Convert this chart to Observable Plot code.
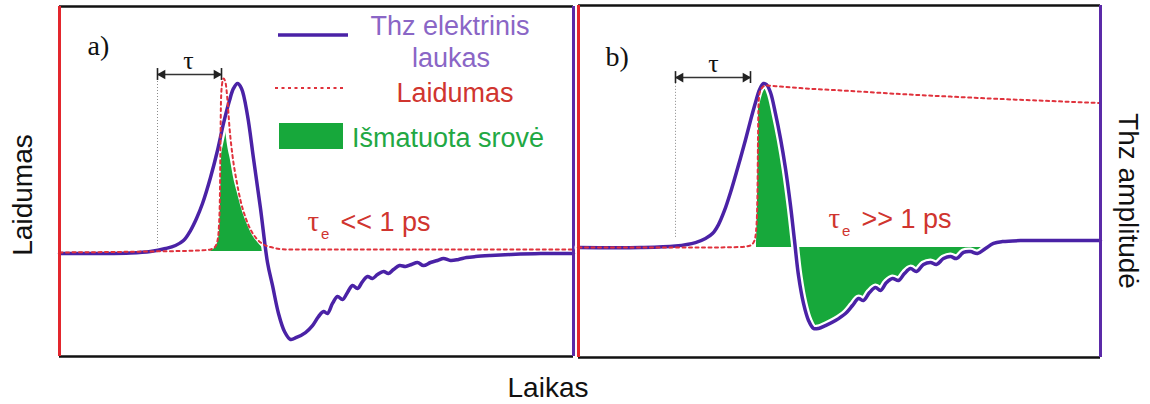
<!DOCTYPE html>
<html>
<head>
<meta charset="utf-8">
<script src="https://cdn.jsdelivr.net/npm/d3@7"></script>
<script src="https://cdn.jsdelivr.net/npm/@observablehq/plot@0.6"></script>
<style>
  body { margin: 0; background: #fff; }
  #fig { position: relative; width: 1150px; height: 404px; background: #fff; overflow: hidden;
         font-family: "Liberation Sans", Arial, sans-serif; }
  #fig > svg { position: absolute; }
</style>
</head>
<body>
<div id="fig"></div>
<script>
// ---- a) short carrier lifetime: THz field, photoconductivity, measured current ----
const timeA = [0, 0.41, 0.71, 0.91, 1.06, 1.16, 1.24, 1.31, 1.37, 1.43, 1.51, 1.58, 1.64, 1.70, 1.74,
  1.78, 1.82, 1.88, 1.94, 2.01, 2.08, 2.13, 2.19, 2.25, 2.31, 2.37, 2.46, 2.53, 2.59, 2.64,
  2.68, 2.73, 2.78, 2.83, 2.88, 2.93, 2.98, 3.03, 3.08, 3.13, 3.18, 3.24, 3.29, 3.34, 3.40,
  3.46, 3.52, 3.58, 3.64, 3.71, 3.78, 3.84, 3.91, 3.99, 4.07, 4.16, 4.31, 4.51, 4.81, 5.14];
const fieldA = [0, 0, 0.003, 0.012, 0.029, 0.047, 0.076, 0.135, 0.206, 0.294, 0.447, 0.606, 0.765, 0.9, 0.971,
  1.0, 0.971, 0.812, 0.559, 0.265, -0.053, -0.188, -0.353, -0.459, -0.506, -0.494, -0.465, -0.424, -0.371, -0.341,
  -0.353, -0.294, -0.253, -0.271, -0.229, -0.188, -0.206, -0.165, -0.135, -0.147, -0.124, -0.106, -0.118, -0.094, -0.071,
  -0.076, -0.065, -0.053, -0.071, -0.053, -0.041, -0.029, -0.041, -0.035, -0.024, -0.018, -0.012, -0.006, 0, 0];
const condTimeA = [0, 0.91, 1.41, 1.51, 1.55, 1.58, 1.595, 1.605, 1.61, 1.615, 1.625, 1.64, 1.66,
  1.68, 1.70, 1.73, 1.77, 1.81, 1.86, 1.91, 1.97, 2.04, 2.13, 2.26, 3.41, 5.14];
const condA = [0.006, 0.012, 0.018, 0.024, 0.035, 0.076, 0.165, 0.371, 0.665, 0.9, 0.994, 1.029, 1.006,
  0.9, 0.741, 0.576, 0.429, 0.312, 0.212, 0.141, 0.088, 0.053, 0.035, 0.024, 0.024, 0.024];
const currentTimeA = [1.49, 1.54, 1.58, 1.60, 1.61, 1.62, 1.63, 1.64, 1.66, 1.68, 1.71, 1.74, 1.78,
  1.82, 1.87, 1.93, 1.99, 2.04, 2.08];
const currentA = [0.012, 0.024, 0.059, 0.135, 0.312, 0.547, 0.712, 0.765, 0.724, 0.635, 0.547, 0.447, 0.353,
  0.265, 0.182, 0.106, 0.059, 0.029, 0.012];
const currentBaseA = 0.012;
const tauA = [0.98, 1.62];
const tauLevelA = 1.053;
const tauFloorA = 0;

// ---- b) long carrier lifetime ----
const timeB = [0, 0.62, 0.97, 1.17, 1.27, 1.34, 1.40, 1.46, 1.52, 1.59, 1.66, 1.72, 1.77, 1.81, 1.85,
  1.88, 1.92, 1.97, 2.02, 2.07, 2.12, 2.16, 2.20, 2.25, 2.30, 2.35, 2.40, 2.47, 2.57, 2.67,
  2.74, 2.80, 2.85, 2.91, 2.97, 3.02, 3.08, 3.14, 3.20, 3.26, 3.32, 3.38, 3.45, 3.52, 3.58,
  3.65, 3.72, 3.78, 3.85, 3.92, 3.99, 4.07, 4.15, 4.24, 4.42, 4.82, 5.22];
const fieldB = [0, 0, 0.009, 0.029, 0.053, 0.082, 0.135, 0.218, 0.324, 0.465, 0.612, 0.747, 0.853, 0.929, 0.965,
  0.959, 0.912, 0.788, 0.641, 0.465, 0.247, 0.041, -0.165, -0.329, -0.429, -0.476, -0.476, -0.459, -0.429, -0.388,
  -0.341, -0.3, -0.312, -0.265, -0.235, -0.253, -0.206, -0.182, -0.194, -0.153, -0.124, -0.141, -0.1, -0.088, -0.1,
  -0.065, -0.053, -0.065, -0.029, -0.024, -0.035, -0.006, 0.024, 0.035, 0.041, 0.041, 0.041];
const condTimeB = [0, 1.22, 1.62, 1.72, 1.76, 1.78, 1.79, 1.795, 1.80, 1.81, 1.83, 1.87, 2.02, 2.22,
  2.72, 3.22, 3.72, 4.22, 4.72, 5.22];
const condB = [0, 0, 0.003, 0.012, 0.041, 0.129, 0.335, 0.629, 0.835, 0.906, 0.935, 0.953, 0.947, 0.938,
  0.921, 0.903, 0.888, 0.874, 0.862, 0.85];
const currentTimeB = [1.78, 1.79, 1.80, 1.81, 1.85, 1.88, 1.92, 1.97, 2.02, 2.07, 2.12, 2.16, 2.20, 2.25,
  2.30, 2.35, 2.40, 2.47, 2.57, 2.67, 2.74, 2.80, 2.85, 2.91, 2.97, 3.02, 3.08, 3.14, 3.20, 3.26,
  3.32, 3.38, 3.45, 3.52, 3.58, 3.65, 3.72, 3.78, 3.85, 3.92, 3.99, 4.07];
const currentB = [0, 0.28, 0.69, 0.88, 0.94, 0.93, 0.89, 0.77, 0.62, 0.45, 0.24, 0.04, -0.165, -0.329,
  -0.429, -0.476, -0.476, -0.459, -0.429, -0.388, -0.341, -0.3, -0.312, -0.265, -0.235, -0.253, -0.206, -0.182, -0.194, -0.153,
  -0.124, -0.141, -0.1, -0.088, -0.1, -0.065, -0.053, -0.065, -0.029, -0.024, -0.035, 0];
const currentBaseB = 0;
const tauB = [0.97, 1.72];
const tauLevelB = 1.0;
const tauFloorB = 0.06;

// ---- texts ----
const legendLabels = ["Thz elektrinis", "laukas", "Laidumas", "Išmatuota srovė"];
const panelTags = ["a)", "b)"];
const lifetimeNotes = ["<< 1 ps", ">> 1 ps"];
const axisLabels = {left: "Laidumas", right: "Thz amplitudė", bottom: "Laikas"};

// ---- styles ----
const PURPLE = "#4a22a6";
const RED = "#e0323c";
const GREEN = "#17a83b";
const NOTE_RED = "#d0352f";
const SERIF = "Liberation Serif, Times New Roman, serif";
const SANS = "Liberation Sans, Arial, sans-serif";
const TICK = 0.035; // half height of the bracket end bars, in amplitude units

const rows = (t, v) => t.map((x, i) => ({t: x, v: v[i]}));

function panel(o) {
  const field = rows(o.time, o.field);
  const cond = rows(o.condTime, o.cond);
  const cur = rows(o.curTime, o.cur);
  const [t0, t1] = o.tau;
  return Plot.plot({
    width: o.width, height: o.height,
    marginTop: 3, marginRight: 3, marginBottom: 3, marginLeft: 3,
    x: {domain: o.xDomain, axis: null},
    y: {domain: o.yDomain, axis: null},
    style: {background: "transparent", overflow: "visible"},
    marks: [
      // measured current
      Plot.areaY(cur, {x: "t", y1: o.curBase, y2: "v", fill: GREEN, curve: o.curCurve}),
      // delay bracket
      Plot.ruleX([t0], {y1: o.tauFloor, y2: o.tauLevel, stroke: "#8a8a8a", strokeWidth: 1, strokeDasharray: "1,2"}),
      Plot.ruleY([o.tauLevel], {x1: t0, x2: t1, stroke: "#333", strokeWidth: 1.4}),
      Plot.ruleX(o.tau, {y1: o.tauLevel - TICK, y2: o.tauLevel + TICK, stroke: "#222", strokeWidth: 1.6}),
      Plot.dot([t0], {x: d => d, y: o.tauLevel, symbol: "triangle", r: 3.6, rotate: -90, dx: 5, fill: "#222"}),
      Plot.dot([t1], {x: d => d, y: o.tauLevel, symbol: "triangle", r: 3.6, rotate: 90, dx: -5, fill: "#222"}),
      Plot.text(["τ"], {x: o.tauText[0], y: o.tauText[1], fontFamily: SERIF, fontSize: 26, fill: "#111", lineAnchor: "bottom"}),
      // THz field with a white halo
      Plot.line(field, {x: "t", y: "v", stroke: "white", strokeWidth: 8, curve: "catmull-rom"}),
      Plot.line(field, {x: "t", y: "v", stroke: PURPLE, strokeWidth: 3.5, curve: "catmull-rom"}),
      // conductivity
      Plot.line(cond, {x: "t", y: "v", stroke: RED, strokeWidth: 2, strokeDasharray: "3,3.5", curve: "monotone-x"}),
      // panel tag
      Plot.text([o.tag], {x: o.tagAt[0], y: o.tagAt[1], fontFamily: SERIF, fontSize: 28, fill: "#111", textAnchor: "start", lineAnchor: "bottom"}),
      // lifetime note
      Plot.text(["τ"], {x: o.noteAt[0], y: o.noteAt[1], fontFamily: SERIF, fontSize: 29, fill: NOTE_RED, textAnchor: "start", lineAnchor: "bottom"}),
      Plot.text(["e"], {x: o.noteAt[0] + 0.135, y: o.noteAt[1] - 0.047, fontFamily: SANS, fontSize: 15, fill: NOTE_RED, textAnchor: "start", lineAnchor: "bottom"}),
      Plot.text([o.note], {x: o.noteAt[0] + 0.33, y: o.noteAt[1], fontFamily: SANS, fontSize: 27, fill: NOTE_RED, textAnchor: "start", lineAnchor: "bottom"}),
      // frame: black top and bottom, red left (conductivity axis), purple right (field axis)
      Plot.ruleY(o.yDomain, {stroke: "#111", strokeWidth: 2.6}),
      Plot.ruleX([o.xDomain[0]], {stroke: "#e3262d", strokeWidth: 3}),
      Plot.ruleX([o.xDomain[1]], {stroke: "#5b2aa8", strokeWidth: 3})
    ]
  });
}

const fig = document.getElementById("fig");

const plotA = panel({
  width: 520, height: 356, xDomain: [0, 5.14], yDomain: [-0.606, 1.453],
  time: timeA, field: fieldA, condTime: condTimeA, cond: condA,
  curTime: currentTimeA, cur: currentA, curBase: currentBaseA, curCurve: "monotone-x",
  tau: tauA, tauLevel: tauLevelA, tauFloor: tauFloorA, tauText: [1.29, 1.085],
  tag: panelTags[0], tagAt: [0.28, 1.165],
  note: lifetimeNotes[0], noteAt: [2.48, 0.135]
});
plotA.style.left = "56px";
plotA.style.top = "3px";
fig.appendChild(plotA);

const plotB = panel({
  width: 528, height: 358, xDomain: [0, 5.22], yDomain: [-0.647, 1.424],
  time: timeB, field: fieldB, condTime: condTimeB, cond: condB,
  curTime: currentTimeB, cur: currentB, curBase: currentBaseB, curCurve: "catmull-rom",
  tau: tauB, tauLevel: tauLevelB, tauFloor: tauFloorB, tauText: [1.35, 1.035],
  tag: panelTags[1], tagAt: [0.27, 1.07],
  note: lifetimeNotes[1], noteAt: [2.50, 0.112]
});
plotB.style.left = "575px";
plotB.style.top = "2px";
fig.appendChild(plotB);

// ---- legend and axis titles ----
const overlay = d3.create("svg")
  .attr("width", 1150).attr("height", 404)
  .style("left", "0px").style("top", "0px")
  .style("pointer-events", "none")
  .attr("font-family", SANS);

const lg = overlay.append("g");
lg.append("line").attr("x1", 278).attr("x2", 348).attr("y1", 35).attr("y2", 35)
  .attr("stroke", PURPLE).attr("stroke-width", 3.4);
lg.append("text").attr("x", 450).attr("y", 35).attr("text-anchor", "middle")
  .attr("font-size", 27).attr("fill", "#8a66c6").text(legendLabels[0]);
lg.append("text").attr("x", 451).attr("y", 67).attr("text-anchor", "middle")
  .attr("font-size", 27).attr("fill", "#8a66c6").text(legendLabels[1]);
lg.append("line").attr("x1", 275).attr("x2", 344).attr("y1", 88).attr("y2", 88)
  .attr("stroke", RED).attr("stroke-width", 2).attr("stroke-dasharray", "3,3.5");
lg.append("text").attr("x", 455).attr("y", 102).attr("text-anchor", "middle")
  .attr("font-size", 27).attr("fill", NOTE_RED).text(legendLabels[2]);
lg.append("rect").attr("x", 279).attr("y", 123).attr("width", 64).attr("height", 26)
  .attr("fill", GREEN);
lg.append("text").attr("x", 352).attr("y", 147)
  .attr("font-size", 27).attr("fill", "#22a843").text(legendLabels[3]);

overlay.append("text").attr("transform", "translate(32,195) rotate(-90)")
  .attr("text-anchor", "middle").attr("font-size", 28).attr("fill", "#111").text(axisLabels.left);
overlay.append("text").attr("transform", "translate(1119,201) rotate(90)")
  .attr("text-anchor", "middle").attr("font-size", 28).attr("fill", "#111").text(axisLabels.right);
overlay.append("text").attr("x", 548).attr("y", 397)
  .attr("text-anchor", "middle").attr("font-size", 28).attr("fill", "#111").text(axisLabels.bottom);

fig.appendChild(overlay.node());
</script>
</body>
</html>
